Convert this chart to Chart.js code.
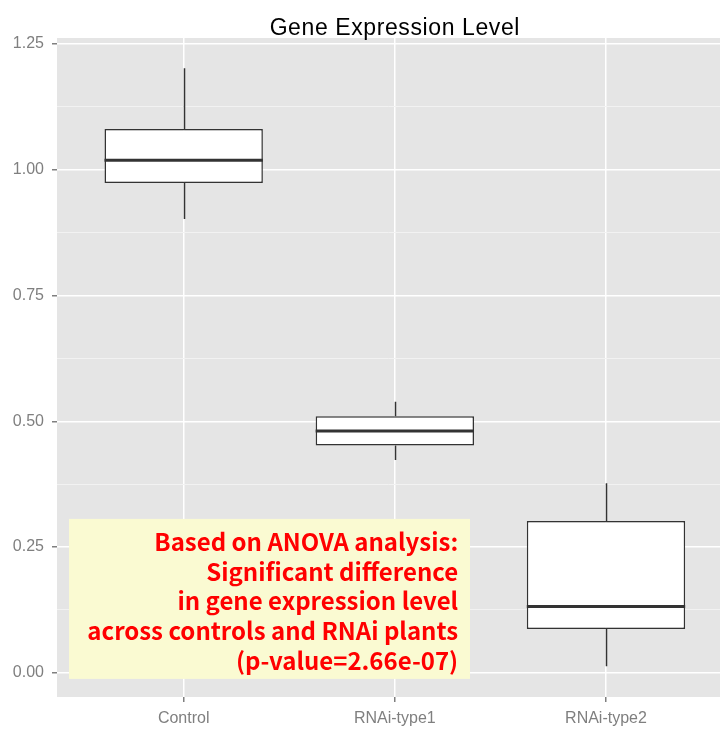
<!DOCTYPE html>
<html>
<head>
<meta charset="utf-8">
<script src="https://cdn.jsdelivr.net/npm/chart.js@4"></script>
<style>
  body { margin: 0; background: #fff; }
  #wrap { width: 720px; height: 729px; }
</style>
</head>
<body>
<div id="wrap"><canvas id="myChart"></canvas></div>
<script>
var categories = ['Control', 'RNAi-type1', 'RNAi-type2'];
var whiskerLow = [0.902, 0.423, 0.013];
var q1 = [0.974, 0.452, 0.087];
var median = [1.019, 0.481, 0.132];
var q3 = [1.081, 0.510, 0.302];
var whiskerHigh = [1.202, 0.539, 0.377];
var yTicks = [0, 0.25, 0.5, 0.75, 1.0, 1.25];
var yMinor = [0.125, 0.375, 0.625, 0.875, 1.125];
var titleText = 'Gene Expression Level';
var noteLines = [
    'Based on ANOVA analysis:',
    'Significant difference',
    'in gene expression level',
    'across controls and RNAi plants',
    '(p-value=2.66e-07)'
];

document.addEventListener('DOMContentLoaded', function() {
    var boxColor = '#333333';

    // grey panel behind the grid, ggplot style
    var panelPlugin = {
        id: 'panel',
        beforeDraw: function(chart) {
            var a = chart.chartArea, c = chart.ctx;
            c.save();
            c.fillStyle = '#E5E5E5';
            c.fillRect(a.left, a.top, a.right - a.left, a.bottom - a.top);
            c.fillStyle = '#000000';
            c.font = '23px "Liberation Sans", Arial, sans-serif';
            c.letterSpacing = '0.6px';
            c.textAlign = 'center';
            c.textBaseline = 'alphabetic';
            var x = chart.scales.x;
            c.fillText(titleText, (x.getPixelForValue(0.4) + x.getPixelForValue(3.6)) / 2, 34.5);
            c.restore();
        }
    };

    // whiskers under the boxes, medians over them
    var boxPlugin = {
        id: 'boxParts',
        beforeDatasetsDraw: function(chart) {
            var x = chart.scales.x, y = chart.scales.y, c = chart.ctx;
            c.save();
            c.strokeStyle = boxColor;
            c.lineWidth = 1.5;
            categories.forEach(function(cat, i) {
                var px = Math.round(x.getPixelForValue(i + 1)) + 0.5;
                c.beginPath();
                c.moveTo(px, y.getPixelForValue(whiskerHigh[i]));
                c.lineTo(px, y.getPixelForValue(q3[i]));
                c.moveTo(px, y.getPixelForValue(q1[i]));
                c.lineTo(px, y.getPixelForValue(whiskerLow[i]));
                c.stroke();
            });
            c.restore();
        },
        afterDatasetsDraw: function(chart) {
            var x = chart.scales.x, y = chart.scales.y, c = chart.ctx;
            var meta = chart.getDatasetMeta(0);
            c.save();
            c.strokeStyle = boxColor;
            c.lineWidth = 3;
            meta.data.forEach(function(bar, i) {
                var half = bar.width / 2;
                var py = y.getPixelForValue(median[i]);
                c.beginPath();
                c.moveTo(bar.x - half, py);
                c.lineTo(bar.x + half, py);
                c.stroke();
            });

            // annotation label
            var bx0 = x.getPixelForValue(0.457), bx1 = x.getPixelForValue(2.356);
            var by0 = y.getPixelForValue(0.306), by1 = y.getPixelForValue(-0.012);
            c.fillStyle = '#FAFAD2';
            c.fillRect(bx0, by0, bx1 - bx0, by1 - by0);
            c.fillStyle = '#FF0000';
            c.font = 'bold 24px "Noto Sans CJK KR", "Noto Sans", sans-serif';
            c.textAlign = 'right';
            c.textBaseline = 'middle';
            var tx = x.getPixelForValue(2.30);
            noteLines.forEach(function(line, i) {
                c.fillText(line, tx, by0 + 23 + i * 29.7);
            });
            c.restore();
        }
    };

    var ctx = document.getElementById('myChart').getContext('2d');
    var myChart = new Chart(ctx, {
        type: 'bar',
        data: {
            datasets: [{
                label: 'box',
                data: categories.map(function(cat, i) {
                    return { x: i + 1, y: [q1[i], q3[i]] };
                }),
                backgroundColor: '#FFFFFF',
                borderColor: boxColor,
                borderWidth: 1.5,
                borderSkipped: false,
                barPercentage: 0.75,
                categoryPercentage: 1
            }]
        },
        options: {
            responsive: true,
            maintainAspectRatio: false,
            animation: false,
            layout: { padding: { top: 38, left: 0, right: 0, bottom: 0 } },
            plugins: {
                legend: { display: false },
                tooltip: { enabled: false },
                title: { display: false }
            },
            scales: {
                x: {
                    type: 'linear',
                    min: 0.4,
                    max: 3.54,
                    offset: false,
                    afterBuildTicks: function(scale) {
                        scale.ticks = categories.map(function(c, i) { return { value: i + 1 }; });
                    },
                    afterFit: function(scale) { scale.height = 32; },
                    border: { display: false },
                    grid: {
                        offset: false,
                        color: '#FFFFFF',
                        lineWidth: 1.5,
                        tickColor: '#7F7F7F',
                        tickLength: 5
                    },
                    ticks: {
                        padding: 6.5,
                        color: '#7F7F7F',
                        font: { family: '"Liberation Sans", Arial, sans-serif', size: 16 },
                        maxRotation: 0,
                        autoSkip: false,
                        callback: function(v) { return categories[v - 1]; }
                    }
                },
                y: {
                    min: -0.048,
                    max: 1.262,
                    afterBuildTicks: function(scale) {
                        scale.ticks = yTicks.concat(yMinor).sort(function(a, b) { return a - b; })
                            .map(function(v) { return { value: v }; });
                    },
                    afterFit: function(scale) { scale.width = 57; },
                    border: { display: false },
                    grid: {
                        color: function(c) {
                            return c.tick && yMinor.indexOf(c.tick.value) >= 0 ? '#F2F2F2' : '#FFFFFF';
                        },
                        lineWidth: function(c) {
                            return c.tick && yMinor.indexOf(c.tick.value) >= 0 ? 1 : 1.5;
                        },
                        tickColor: function(c) {
                            return c.tick && yMinor.indexOf(c.tick.value) >= 0 ? 'rgba(0,0,0,0)' : '#7F7F7F';
                        },
                        tickLength: 5
                    },
                    ticks: {
                        padding: 8,
                        color: '#7F7F7F',
                        font: { family: '"Liberation Sans", Arial, sans-serif', size: 16 },
                        autoSkip: false,
                        callback: function(v) {
                            return yMinor.indexOf(v) >= 0 ? '' : v.toFixed(2);
                        }
                    }
                }
            }
        },
        plugins: [panelPlugin, boxPlugin]
    });
});
</script>
</body>
</html>
